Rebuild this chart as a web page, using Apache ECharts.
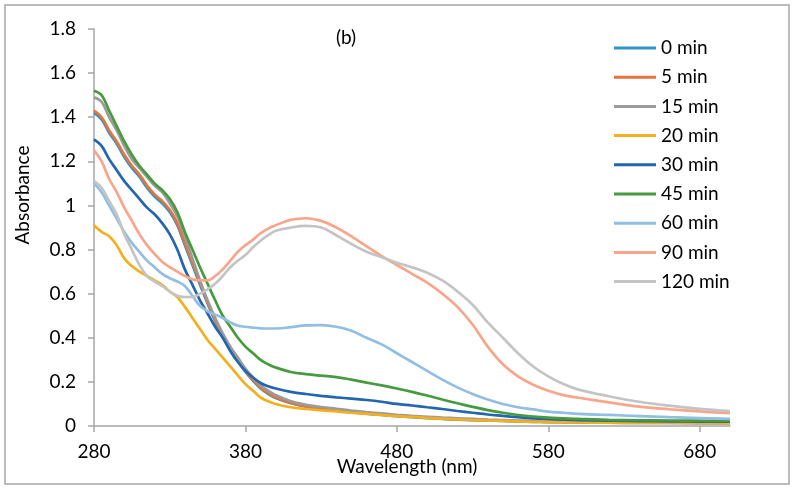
<!DOCTYPE html>
<html>
<head>
<meta charset="utf-8">
<script src="https://cdn.jsdelivr.net/npm/echarts@6.0.0/dist/echarts.min.js"></script>
<style>
  html, body { margin: 0; padding: 0; background: #fff; }
  #main { width: 794px; height: 489px; }
</style>
</head>
<body>
<div id="main"></div>
<script>
'use strict';

// wavelength (nm), shared by all spectra
var wavelengths = [280, 285, 290, 295, 300, 305, 310, 315, 320, 325, 330, 335, 340, 345, 350, 355, 360, 365, 370, 375,
    380, 385, 390, 395, 400, 410, 420, 430, 440, 450, 460, 470, 480, 490, 500, 510, 520, 530, 540, 550,
    560, 570, 580, 590, 600, 620, 640, 660, 680, 700];

var seriesNames = ['0 min', '5 min', '15 min', '20 min', '30 min', '45 min', '60 min', '90 min', '120 min'];

var abs0 = [1.42, 1.39, 1.33, 1.28, 1.22, 1.17, 1.13, 1.08, 1.04, 1.01, 0.97, 0.91, 0.82, 0.73, 0.64, 0.555, 0.475, 0.405, 0.345, 0.295,
    0.245, 0.205, 0.17, 0.146, 0.127, 0.103, 0.088, 0.078, 0.07, 0.063, 0.056, 0.05, 0.045, 0.04, 0.036, 0.032, 0.029, 0.027, 0.025, 0.023,
    0.021, 0.019, 0.018, 0.017, 0.016, 0.015, 0.014, 0.014, 0.013, 0.013];
var abs5 = [1.43, 1.40, 1.34, 1.29, 1.23, 1.18, 1.14, 1.09, 1.05, 1.02, 0.98, 0.92, 0.83, 0.74, 0.65, 0.56, 0.48, 0.41, 0.35, 0.30,
    0.25, 0.21, 0.175, 0.15, 0.13, 0.105, 0.09, 0.08, 0.072, 0.065, 0.058, 0.052, 0.047, 0.042, 0.038, 0.034, 0.031, 0.028, 0.026, 0.024,
    0.022, 0.02, 0.019, 0.018, 0.017, 0.016, 0.015, 0.015, 0.014, 0.014];
var abs15 = [1.49, 1.47, 1.40, 1.34, 1.27, 1.21, 1.17, 1.13, 1.09, 1.06, 1.01, 0.95, 0.86, 0.76, 0.66, 0.57, 0.49, 0.42, 0.36, 0.31,
    0.26, 0.22, 0.185, 0.16, 0.14, 0.112, 0.096, 0.086, 0.078, 0.07, 0.063, 0.057, 0.051, 0.046, 0.042, 0.038, 0.035, 0.032, 0.029, 0.027,
    0.025, 0.023, 0.022, 0.021, 0.02, 0.019, 0.018, 0.018, 0.017, 0.017];
var abs20 = [0.91, 0.88, 0.86, 0.82, 0.76, 0.725, 0.70, 0.68, 0.66, 0.64, 0.61, 0.585, 0.54, 0.49, 0.44, 0.39, 0.35, 0.31, 0.27, 0.23,
    0.19, 0.16, 0.13, 0.112, 0.1, 0.085, 0.077, 0.071, 0.066, 0.06, 0.055, 0.05, 0.045, 0.041, 0.037, 0.033, 0.03, 0.027, 0.025, 0.023,
    0.021, 0.019, 0.018, 0.017, 0.016, 0.015, 0.014, 0.014, 0.013, 0.013];
var abs30 = [1.30, 1.27, 1.21, 1.16, 1.11, 1.07, 1.03, 0.99, 0.96, 0.92, 0.87, 0.80, 0.71, 0.64, 0.57, 0.51, 0.45, 0.40, 0.34, 0.29,
    0.25, 0.22, 0.195, 0.18, 0.17, 0.155, 0.145, 0.137, 0.13, 0.124, 0.118, 0.11, 0.1, 0.093, 0.085, 0.077, 0.068, 0.06, 0.052, 0.046,
    0.04, 0.035, 0.032, 0.029, 0.027, 0.024, 0.022, 0.021, 0.02, 0.02];
var abs45 = [1.52, 1.50, 1.43, 1.36, 1.29, 1.23, 1.18, 1.14, 1.10, 1.07, 1.03, 0.97, 0.88, 0.80, 0.72, 0.645, 0.57, 0.50, 0.45, 0.40,
    0.36, 0.33, 0.30, 0.28, 0.265, 0.245, 0.235, 0.228, 0.222, 0.21, 0.197, 0.184, 0.17, 0.155, 0.138, 0.12, 0.103, 0.087, 0.072, 0.06,
    0.05, 0.043, 0.038, 0.035, 0.032, 0.028, 0.026, 0.025, 0.024, 0.023];
var abs60 = [1.10, 1.06, 1.00, 0.94, 0.88, 0.83, 0.79, 0.75, 0.72, 0.69, 0.67, 0.655, 0.635, 0.59, 0.545, 0.52, 0.505, 0.49, 0.47, 0.455,
    0.45, 0.446, 0.443, 0.442, 0.442, 0.448, 0.456, 0.457, 0.45, 0.432, 0.40, 0.37, 0.33, 0.29, 0.25, 0.21, 0.175, 0.145, 0.12, 0.1,
    0.085, 0.075, 0.065, 0.06, 0.055, 0.05, 0.045, 0.04, 0.036, 0.032];
var abs90 = [1.25, 1.20, 1.12, 1.06, 0.99, 0.93, 0.87, 0.82, 0.78, 0.745, 0.72, 0.70, 0.68, 0.665, 0.66, 0.66, 0.68, 0.71, 0.75, 0.79,
    0.82, 0.845, 0.874, 0.895, 0.91, 0.935, 0.942, 0.93, 0.90, 0.86, 0.815, 0.77, 0.73, 0.69, 0.65, 0.60, 0.54, 0.46, 0.36, 0.28,
    0.225, 0.187, 0.16, 0.14, 0.128, 0.107, 0.088, 0.076, 0.066, 0.058];
var abs120 = [1.11, 1.08, 1.02, 0.96, 0.87, 0.80, 0.73, 0.68, 0.655, 0.635, 0.61, 0.59, 0.585, 0.585, 0.60, 0.62, 0.645, 0.68, 0.72, 0.75,
    0.775, 0.81, 0.84, 0.865, 0.885, 0.90, 0.907, 0.90, 0.865, 0.825, 0.79, 0.765, 0.74, 0.72, 0.695, 0.66, 0.61, 0.55, 0.47, 0.40,
    0.33, 0.27, 0.225, 0.19, 0.165, 0.135, 0.11, 0.092, 0.078, 0.068];

var seriesValues = [abs0, abs5, abs15, abs20, abs30, abs45, abs60, abs90, abs120];
var seriesColors = ['#2F94C8', '#E8733A', '#9B9B9B', '#F2B01E', '#2466AE', '#459B3E', '#93BEE3', '#F7A68C', '#C4C4C4'];

var xTicks = [280, 380, 480, 580, 680];
var yTicks = [0, 0.2, 0.4, 0.6, 0.8, 1, 1.2, 1.4, 1.6, 1.8];

var FONT = 'Lato, "Open Sans", sans-serif';

var myChart = echarts.init(document.getElementById('main'), null, { renderer: 'canvas' });

var series = seriesNames.map(function(name, i) {
    return {
        name: name,
        type: 'line',
        symbol: 'none',
        smooth: 0.4,
        lineStyle: { width: 2.7, color: seriesColors[i] },
        itemStyle: { color: seriesColors[i] },
        data: wavelengths.map(function(w, k) {
            return [w, seriesValues[i][k]];
        })
    };
});

var option = {
    animation: false,
    backgroundColor: '#fff',
    textStyle: { fontFamily: FONT },
    grid: {
        left: 94,
        right: 64,
        top: 29,
        bottom: 63,
        containLabel: false,
        outerBoundsMode: 'none'
    },
    legend: {
        orient: 'vertical',
        left: 614,
        top: 38,
        padding: 0,
        icon: 'rect',
        itemWidth: 42,
        itemHeight: 3,
        itemGap: 9.2,
        textStyle: { fontFamily: FONT, fontSize: 19, color: '#000', lineHeight: 20 },
        data: seriesNames
    },
    xAxis: {
        type: 'value',
        min: 280,
        max: 700,
        splitLine: { show: false },
        axisLine: { lineStyle: { color: '#A6A6A6', width: 1.5 } },
        axisTick: { show: true, length: 6, lineStyle: { color: '#A6A6A6', width: 1.5 }, customValues: xTicks },
        axisLabel: { customValues: xTicks, color: '#000', fontSize: 19, fontFamily: FONT, margin: 16 }
    },
    yAxis: {
        type: 'value',
        min: 0,
        max: 1.8,
        interval: 0.2,
        splitLine: { show: false },
        axisLine: { show: true, lineStyle: { color: '#A6A6A6', width: 1.5 } },
        axisTick: { show: true, length: 6, lineStyle: { color: '#A6A6A6', width: 1.5 }, customValues: yTicks },
        axisLabel: { customValues: yTicks, color: '#000', fontSize: 19, fontFamily: FONT, margin: 18 }
    },
    graphic: [
        {
            type: 'rect',
            shape: { x: 5, y: 5, width: 784, height: 479 },
            style: { fill: 'none', stroke: '#A6A6A6', lineWidth: 1.5 },
            silent: true
        },
        {
            type: 'text',
            x: 346, y: 38,
            style: { text: '(b)', font: '19px ' + FONT, fill: '#000', align: 'center', verticalAlign: 'middle' }
        },
        {
            type: 'text',
            x: 23, y: 195,
            rotation: Math.PI / 2,
            style: { text: 'Absorbance', font: '19px ' + FONT, fill: '#000', align: 'center', verticalAlign: 'middle' }
        },
        {
            type: 'text',
            x: 407, y: 467,
            style: { text: 'Wavelength (nm)', font: '19px ' + FONT, fill: '#000', align: 'center', verticalAlign: 'middle' }
        }
    ],
    series: series
};

myChart.setOption(option);
</script>
</body>
</html>
